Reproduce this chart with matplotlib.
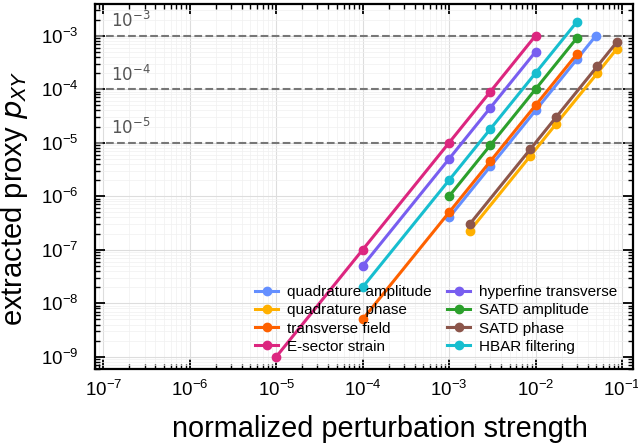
import matplotlib
matplotlib.use("Agg")
import matplotlib.pyplot as plt
from matplotlib.ticker import LogLocator, NullFormatter

plt.rcParams['font.family'] = ['Liberation Sans', 'DejaVu Sans']

labels = ["quadrature amplitude", "quadrature phase", "transverse field", "E-sector strain",
          "hyperfine transverse", "SATD amplitude", "SATD phase", "HBAR filtering"]
colors = ["#648fff", "#ffb000", "#fe6100", "#dc267f",
          "#785ef0", "#2ca02c", "#8c564b", "#17becf"]

x_quad_amp = [1e-3, 3e-3, 1e-2, 3e-2, 5e-2]
y_quad_amp = [4e-7, 3.6e-6, 4e-5, 3.6e-4, 1e-3]
x_quad_phase = [1.73e-3, 8.66e-3, 1.73e-2, 5.2e-2, 8.66e-2]
y_quad_phase = [2.25e-7, 5.6e-6, 2.25e-5, 2.0e-4, 5.6e-4]
x_transverse = [1e-4, 1e-3, 3e-3, 1e-2, 3e-2]
y_transverse = [5e-9, 5e-7, 4.5e-6, 5e-5, 4.5e-4]
x_esector = [1e-5, 1e-4, 1e-3, 3e-3, 1e-2]
y_esector = [1e-9, 1e-7, 1e-5, 9e-5, 1e-3]
x_hyperfine = [1e-4, 1e-3, 3e-3, 1e-2]
y_hyperfine = [5e-8, 5e-6, 4.5e-5, 5e-4]
x_satd_amp = [1e-3, 3e-3, 1e-2, 3e-2]
y_satd_amp = [1e-6, 9e-6, 1e-4, 9e-4]
x_satd_phase = [1.73e-3, 8.66e-3, 1.73e-2, 5.2e-2, 8.66e-2]
y_satd_phase = [3e-7, 7.5e-6, 3e-5, 2.7e-4, 7.5e-4]
x_hbar = [1e-4, 1e-3, 3e-3, 1e-2, 3e-2]
y_hbar = [2e-8, 2e-6, 1.8e-5, 2e-4, 1.8e-3]

xs = [x_quad_amp, x_quad_phase, x_transverse, x_esector, x_hyperfine, x_satd_amp, x_satd_phase, x_hbar]
ys = [y_quad_amp, y_quad_phase, y_transverse, y_esector, y_hyperfine, y_satd_amp, y_satd_phase, y_hbar]

ref_levels = [1e-3, 1e-4, 1e-5]
ref_texts = [r"$10^{-3}$", r"$10^{-4}$", r"$10^{-5}$"]

fig = plt.figure(figsize=(6.38, 4.47), dpi=100)
ax = fig.add_axes([95/638, 1-369/447, (633-95)/638, (369-4)/447])

for lev, t in zip(ref_levels, ref_texts):
    ax.axhline(lev, color="#777777", ls="--", lw=1.5, zorder=1)
    ax.text(1.22e-7, lev*1.2, t, color="#555555", fontsize=12, family="DejaVu Sans",
            va="bottom", ha="left")

for x, y, c, l in zip(xs, ys, colors, labels):
    ax.plot(x, y, '-o', color=c, lw=2.2, ms=6, label=l, zorder=3)

ax.set_xscale('log')
ax.set_yscale('log')
ax.set_xlim(8e-8, 0.134)
ax.set_ylim(5.9e-10, 3.9e-3)

ax.xaxis.set_major_locator(LogLocator(base=10, numticks=20))
ax.yaxis.set_major_locator(LogLocator(base=10, numticks=20))
ax.xaxis.set_minor_locator(LogLocator(base=10, subs=range(2, 10), numticks=100))
ax.yaxis.set_minor_locator(LogLocator(base=10, subs=range(2, 10), numticks=100))
ax.xaxis.set_minor_formatter(NullFormatter())
ax.yaxis.set_minor_formatter(NullFormatter())

ax.grid(True, which='major', color='#dddddd', lw=0.8, zorder=0)
ax.grid(True, which='minor', color='#f0f0f0', lw=0.5, zorder=0)
ax.set_axisbelow(True)

ax.tick_params(which='both', direction='in', top=True, right=True, labelsize=13.5)
ax.tick_params(which='major', length=7, width=1.3)
ax.tick_params(which='minor', length=3.5, width=1.0)
ax.tick_params(axis='x', which='both', pad=8)
ax.tick_params(axis='y', which='both', pad=12)
for s in ax.spines.values():
    s.set_linewidth(1.6)

ax.set_xlabel("normalized perturbation strength", fontsize=20.8)
ax.set_ylabel(r"extracted proxy $p_{XY}$", fontsize=21)
ax.xaxis.set_label_coords(0.529, -0.125, transform=ax.transAxes)
ax.yaxis.set_label_coords(-0.121, 0.467, transform=ax.transAxes)

ax.legend(loc='lower right', ncol=2, frameon=False, fontsize=11, handlelength=1.5,
          labelspacing=0.27, columnspacing=1.0, handletextpad=0.6, borderaxespad=0.6)

fig.savefig("out.png", dpi=100)
